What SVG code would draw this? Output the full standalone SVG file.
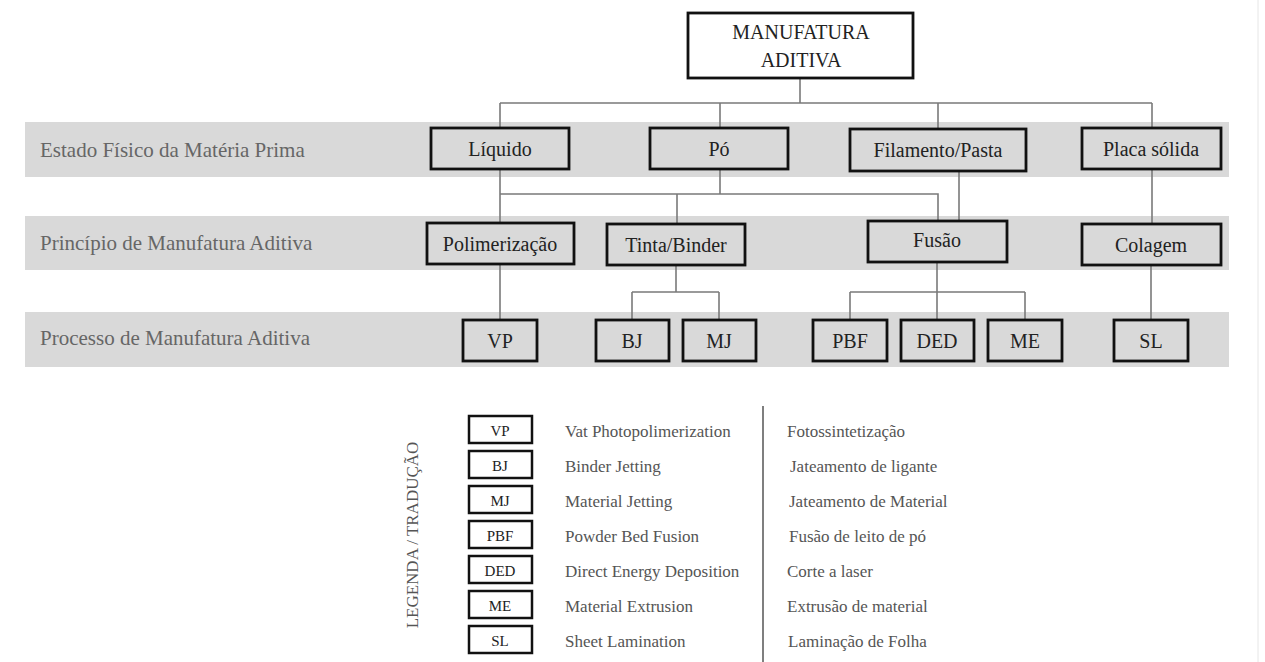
<svg xmlns="http://www.w3.org/2000/svg" width="1265" height="662" viewBox="0 0 1265 662">
<style>
  .band { fill: #d9d9d9; }
  .bandlabel { font-family: "Liberation Serif", "Times New Roman", serif; font-size: 21px; fill: #666; }
  .box { fill: #d9d9d9; stroke: #111; stroke-width: 2.8; }
  .topbox { fill: #fff; stroke: #111; stroke-width: 2.8; }
  .lbox { fill: #fff; stroke: #111; stroke-width: 2.5; }
  .t { font-family: "Liberation Serif", "Times New Roman", serif; font-size: 20px; fill: #222; text-anchor: middle; }
  .lt { font-family: "Liberation Serif", "Times New Roman", serif; font-size: 15px; fill: #222; text-anchor: middle; }
  .leg { font-family: "Liberation Serif", "Times New Roman", serif; font-size: 17px; fill: #555; }
  .conn { stroke: #7a7a7a; stroke-width: 1.6; fill: none; }
</style>
<rect width="1265" height="662" fill="#fff"/>
<line x1="1258" y1="0" x2="1258" y2="662" stroke="#e6e6e6" stroke-width="1"/>

<g id="bands">
  <rect class="band" x="25" y="122" width="1204" height="55"/>
  <rect class="band" x="25" y="216" width="1204" height="54"/>
  <rect class="band" x="25" y="312" width="1204" height="55"/>
  <text class="bandlabel" x="40" y="157">Estado Físico da Matéria Prima</text>
  <text class="bandlabel" x="40" y="250">Princípio de Manufatura Aditiva</text>
  <text class="bandlabel" x="40" y="345">Processo de Manufatura Aditiva</text>
</g>

<g id="connectors">
  <path class="conn" d="M800 78 V103 M500 103 H1152 M500 103 V128 M720 103 V128 M938 103 V129 M1152 103 V128"/>
  <path class="conn" d="M500 169 V223 M500 194 H938 V221 M720 169 V194 M677 194 V224 M959 171 V221 M1152 169 V224"/>
  <path class="conn" d="M500 264 V320 M676 265 V292 M632 292 H719 M632 292 V320 M719 292 V320"/>
  <path class="conn" d="M937 262 V320 M850 292 H1025 M850 292 V320 M1025 292 V320 M1151 265 V320"/>
</g>

<g id="manufatura-aditiva">
  <rect class="topbox" x="688" y="13" width="225" height="65"/>
  <text class="t" x="801" y="39">MANUFATURA</text>
  <text class="t" x="801" y="67">ADITIVA</text>
</g>

<g id="liquido"><rect class="box" x="431" y="128" width="138" height="41"/><text class="t" x="500" y="156">Líquido</text></g>
<g id="po"><rect class="box" x="650" y="128" width="138" height="41"/><text class="t" x="719" y="156">Pó</text></g>
<g id="filamento"><rect class="box" x="850" y="129" width="176" height="42"/><text class="t" x="938" y="157">Filamento/Pasta</text></g>
<g id="placa"><rect class="box" x="1082" y="128" width="139" height="41"/><text class="t" x="1151" y="156">Placa sólida</text></g>

<g id="polimerizacao"><rect class="box" x="427" y="223" width="147" height="41"/><text class="t" x="500" y="251">Polimerização</text></g>
<g id="tinta"><rect class="box" x="607" y="224" width="138" height="41"/><text class="t" x="676" y="252">Tinta/Binder</text></g>
<g id="fusao"><rect class="box" x="868" y="221" width="139" height="41"/><text class="t" x="937" y="247">Fusão</text></g>
<g id="colagem"><rect class="box" x="1082" y="224" width="139" height="41"/><text class="t" x="1151" y="252">Colagem</text></g>

<g id="vp"><rect class="box" x="463" y="320" width="74" height="41"/><text class="t" x="500" y="348">VP</text></g>
<g id="bj"><rect class="box" x="596" y="320" width="73" height="41"/><text class="t" x="632" y="348">BJ</text></g>
<g id="mj"><rect class="box" x="683" y="320" width="73" height="41"/><text class="t" x="719" y="348">MJ</text></g>
<g id="pbf"><rect class="box" x="813" y="320" width="74" height="41"/><text class="t" x="850" y="348">PBF</text></g>
<g id="ded"><rect class="box" x="901" y="320" width="73" height="41"/><text class="t" x="937" y="348">DED</text></g>
<g id="me"><rect class="box" x="988" y="320" width="74" height="41"/><text class="t" x="1025" y="348">ME</text></g>
<g id="sl"><rect class="box" x="1114" y="320" width="74" height="41"/><text class="t" x="1151" y="348">SL</text></g>

<g id="legend">
  <text class="leg" x="0" y="0" text-anchor="middle" transform="translate(418 535) rotate(-90)">LEGENDA / TRADUÇÃO</text>
  <line x1="763" y1="406" x2="763" y2="662" stroke="#555" stroke-width="1.5"/>
  <g id="leg-vp"><rect class="lbox" x="469" y="416" width="63" height="27"/><text class="lt" x="500" y="436">VP</text><text class="leg" x="565" y="437">Vat Photopolimerization</text><text class="leg" x="787" y="437">Fotossintetização</text></g>
  <g id="leg-bj"><rect class="lbox" x="469" y="451" width="63" height="27"/><text class="lt" x="500" y="471">BJ</text><text class="leg" x="565" y="472">Binder Jetting</text><text class="leg" x="790" y="472">Jateamento de ligante</text></g>
  <g id="leg-mj"><rect class="lbox" x="469" y="486" width="63" height="27"/><text class="lt" x="500" y="506">MJ</text><text class="leg" x="565" y="507">Material Jetting</text><text class="leg" x="789" y="507">Jateamento de Material</text></g>
  <g id="leg-pbf"><rect class="lbox" x="469" y="521" width="63" height="27"/><text class="lt" x="500" y="541">PBF</text><text class="leg" x="565" y="542">Powder Bed Fusion</text><text class="leg" x="789" y="542">Fusão de leito de pó</text></g>
  <g id="leg-ded"><rect class="lbox" x="469" y="556" width="63" height="27"/><text class="lt" x="500" y="576">DED</text><text class="leg" x="565" y="577">Direct Energy Deposition</text><text class="leg" x="787" y="577">Corte a laser</text></g>
  <g id="leg-me"><rect class="lbox" x="469" y="591" width="63" height="27"/><text class="lt" x="500" y="611">ME</text><text class="leg" x="565" y="612">Material Extrusion</text><text class="leg" x="787" y="612">Extrusão de material</text></g>
  <g id="leg-sl"><rect class="lbox" x="469" y="626" width="63" height="27"/><text class="lt" x="500" y="646">SL</text><text class="leg" x="565" y="647">Sheet Lamination</text><text class="leg" x="788" y="647">Laminação de Folha</text></g>
</g>
</svg>
